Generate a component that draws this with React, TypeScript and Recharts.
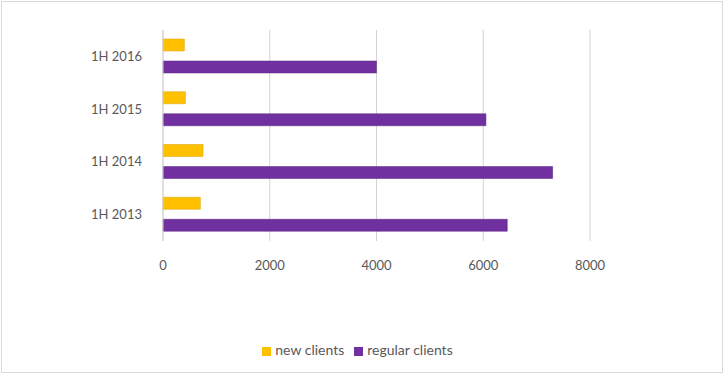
import React from 'react';
import { BarChart, Bar, XAxis, YAxis, CartesianGrid, Legend } from 'recharts';

// Half-year periods, top to bottom as shown
const periods = ['1H 2016', '1H 2015', '1H 2014', '1H 2013'];
const newClients = [400, 420, 750, 700];
const regularClients = [4000, 6050, 7300, 6450];
const xTicks = [0, 2000, 4000, 6000, 8000];

const data = periods.map((p, i) => ({
  period: p,
  newClients: newClients[i],
  regularClients: regularClients[i],
}));

const textColor = '#595959';
const gridColor = '#d4d4d4';

const App: React.FC = () => {
  return (
    <div style={{ position: 'absolute', left: 0, top: 0, width: 725, height: 383, background: '#fff', fontFamily: 'Lato, "Open Sans", sans-serif' }}>
      <style>{`body{margin:0}`}</style>
      <div style={{ position: 'absolute', left: 1, top: 1, width: 720, height: 370, border: '1px solid #d9d9d9' }} />
      <BarChart
        width={725}
        height={383}
        layout="vertical"
        data={data}
        margin={{ top: 30, right: 135, bottom: 95, left: 0 }}
        barSize={12}
        barGap={10}
        barCategoryGap={9}
      >
        <CartesianGrid horizontal={false} stroke={gridColor} />
        <XAxis
          type="number"
          domain={[0, 8000]}
          ticks={xTicks}
          axisLine={false}
          tickLine={false}
          tick={{ fill: textColor, fontSize: 13 }}
          tickMargin={14}
        />
        <YAxis
          type="category"
          dataKey="period"
          width={163}
          axisLine={{ stroke: gridColor }}
          tickLine={false}
          tick={{ fill: textColor, fontSize: 13 }}
          tickMargin={15}
        />
        <Legend
          iconType="square"
          iconSize={9}
          verticalAlign="bottom"
          wrapperStyle={{ fontSize: 14, color: textColor, top: 341, left: 0, width: 725 }}
          formatter={(v) => <span style={{ color: textColor }}>{v}</span>}
        />
        <Bar dataKey="newClients" name="new clients" fill="#FFC000" stroke="#D9A100" strokeWidth={0.5} isAnimationActive={false} />
        <Bar dataKey="regularClients" name="regular clients" fill="#7030A0" stroke="#5A2482" strokeWidth={0.5} isAnimationActive={false} />
      </BarChart>
    </div>
  );
};

export default App;
